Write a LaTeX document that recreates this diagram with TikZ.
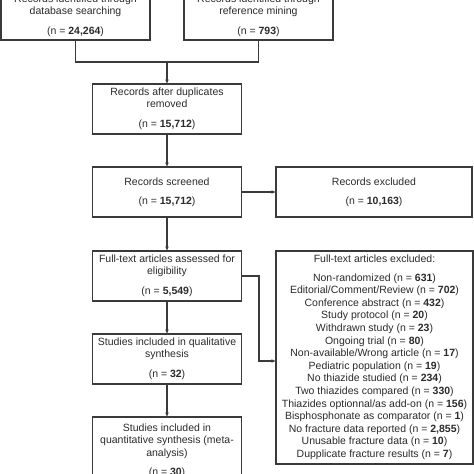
\documentclass[tikz,border=0pt]{standalone}
\usepackage{fontspec}
\setmainfont{Liberation Sans}
\usetikzlibrary{arrows.meta}
\definecolor{ink}{HTML}{2B2B2B}
\definecolor{edge}{HTML}{3A3A3A}
\begin{document}
\begin{tikzpicture}[x=1pt,y=-1pt,
  box/.style={draw=edge, line width=1.2pt, text=ink, inner sep=0pt, align=center,
    minimum width=149pt, minimum height=50pt,
    font=\fontsize{10.5}{12.3}\selectfont},
  link/.style={draw=edge, line width=1.2pt},
  arr/.style={link, -{Stealth[length=4pt,width=3.5pt]}}]
\clip (0,0) rectangle (474,474);
\fill[white] (0,0) rectangle (474,474);
\node[box, minimum height=49pt] (tl) at (75.5,15.5) {Records identified through\\database searching\\[7.5pt](n = \textbf{24,264})};
\node[box, minimum height=49pt] (tr) at (258.5,15.5) {Records identified through\\reference mining\\[7.5pt](n = \textbf{793})};
\node[box] (b2) at (167,109) {Records after duplicates\\removed\\[7.5pt](n = \textbf{15,712})};
\node[box] (b3) at (167,192) {Records screened\\[7pt](n = \textbf{15,712})};
\node[box, minimum width=196pt] (ex1) at (374,192) {Records excluded\\[7pt](n = \textbf{10,163})};
\node[box] (b4) at (167,276) {Full-text articles assessed for\\eligibility\\[7.5pt](n = \textbf{5,549})};
\node[box] (b5) at (167,359) {Studies included in qualitative\\synthesis\\[7.5pt](n = \textbf{32})};
\node[box, minimum height=68pt] (b6) at (167,451) {Studies included in\\quantitative synthesis (meta-\\analysis)\\[7.5pt](n = \textbf{30})};
\node[box, minimum width=197pt, minimum height=213pt,
  font=\fontsize{10.5}{12.6}\selectfont] (ex2) at (374.5,357.5) {Full-text articles excluded:\\[5.5pt]
Non-randomized (n = \textbf{631})\\
Editorial/Comment/Review (n = \textbf{702})\\
Conference abstract (n = \textbf{432})\\
Study protocol (n = \textbf{20})\\
Withdrawn study (n = \textbf{23})\\
Ongoing trial (n = \textbf{80})\\
Non-available/Wrong article (n = \textbf{17})\\
Pediatric population (n = \textbf{19})\\
No thiazide studied (n = \textbf{234})\\
Two thiazides compared (n = \textbf{330})\\
Thiazides optionnal/as add-on (n = \textbf{156})\\
Bisphosphonate as comparator (n = \textbf{1})\\
No fracture data reported (n = \textbf{2,855})\\
Unusable fracture data (n = \textbf{10})\\
Dupplicate fracture results (n = \textbf{7})};
\coordinate (j) at (167,62);
\coordinate (k1) at (259,276);
\coordinate (k2) at (259,361);
\draw[link] (tl.south) |- (j) -| (tr.south);
\draw[arr] (j) -- (b2.north);
\draw[arr] (b2.south) -- (b3.north);
\draw[arr] (b3.east) -- (ex1.west);
\draw[arr] (b3.south) -- (b4.north);
\draw[arr] (b4.south) -- (b5.north);
\draw[arr] (b5.south) -- (b6.north);
\draw[arr] (b4.east) -- (k1) -- (k2) -- (k2 -| ex2.west);
\end{tikzpicture}
\end{document}
